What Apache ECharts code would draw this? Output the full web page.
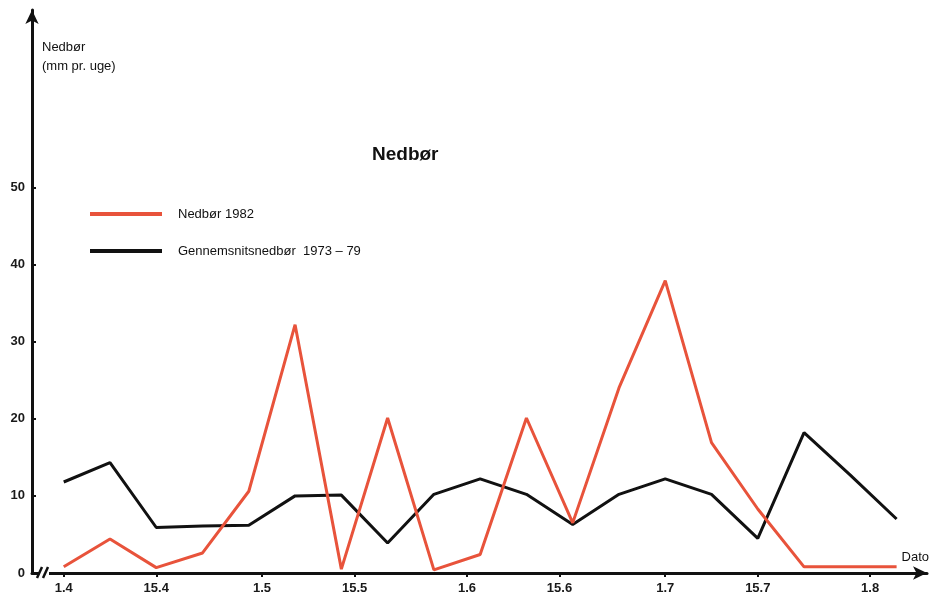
<!DOCTYPE html>
<html>
<head>
<meta charset="utf-8">
<script src="https://cdn.jsdelivr.net/npm/echarts@6/dist/echarts.min.js"></script>
<style>
  html, body { margin: 0; padding: 0; background: #fff; }
  #chart { width: 932px; height: 597px; }
</style>
</head>
<body>
<div id="chart"></div>
<script>
// Days after 1 April (weekly observations)
const days = [0, 7, 14, 21, 28, 35, 42, 49, 56, 63, 70, 77, 84, 91, 98, 105, 112, 119, 126];
const rain1982 = [0.8, 4.4, 0.7, 2.6, 10.6, 32.2, 0.5, 20.1, 0.4, 2.4, 20.1, 6.5, 24.0, 37.9, 16.9, 8.3, 0.8, 0.8, 0.8];
const rainAvg = [11.8, 14.3, 5.9, 6.1, 6.2, 10.0, 10.1, 3.9, 10.2, 12.2, 10.2, 6.3, 10.2, 12.2, 10.2, 4.5, 18.2, 12.7, 7.0];
const tickDays = [0, 14, 30, 44, 61, 75, 91, 105, 122];
const tickLabels = ['1.4', '15.4', '1.5', '15.5', '1.6', '15.6', '1.7', '15.7', '1.8'];
const yTicks = [0, 10, 20, 30, 40, 50];
const seriesNames = ['Nedbør 1982', 'Gennemsnitsnedbør  1973 – 79'];

const FONT = 'Liberation Sans, Arial, sans-serif';
const chart = echarts.init(document.getElementById('chart'));

const pair = (xs, ys) => xs.map((x, i) => [x, ys[i]]);

chart.setOption({
  animation: false,
  backgroundColor: '#ffffff',
  textStyle: { fontFamily: FONT },
  title: {
    text: 'Nedbør',
    left: 367,
    top: 140,
    textStyle: { fontFamily: FONT, fontSize: 19, fontWeight: 'bold', color: '#111' }
  },
  legend: {
    orient: 'vertical',
    left: 85,
    top: 201,
    itemWidth: 72,
    itemHeight: 4,
    itemGap: 21,
    icon: 'rect',
    data: seriesNames,
    textStyle: { fontFamily: FONT, fontSize: 13, color: '#111', padding: [0, 0, 0, 11], lineHeight: 16 }
  },
  grid: { left: 32, right: 2, top: 10, bottom: 24, containLabel: false },
  xAxis: {
    type: 'value',
    min: -4.8,
    max: 130.6,
    name: 'Dato',
    nameLocation: 'end',
    nameGap: 2,
    nameTextStyle: { fontFamily: FONT, fontSize: 13, color: '#111', align: 'right', verticalAlign: 'bottom', padding: [0, 0, 9, 0] },
    axisLine: { show: true, onZero: false, symbol: ['none', 'arrow'], symbolSize: [10, 14], lineStyle: { color: '#111', width: 3 } },
    axisTick: { show: true, customValues: tickDays, length: 4, lineStyle: { color: '#111', width: 2 } },
    axisLabel: {
      customValues: tickDays,
      formatter: v => tickLabels[tickDays.indexOf(v)] || '',
      margin: 9, fontFamily: FONT, fontSize: 13, fontWeight: 'bold', color: '#1a1a1a'
    },
    splitLine: { show: false }
  },
  yAxis: {
    type: 'value',
    min: 0,
    max: 73,
    name: 'Nedbør\n(mm pr. uge)',
    nameLocation: 'end',
    nameGap: -28,
    nameTextStyle: { fontFamily: FONT, fontSize: 13, color: '#111', align: 'left', verticalAlign: 'top', lineHeight: 19, padding: [0, 0, 0, 10] },
    axisLine: { show: true, onZero: false, symbol: ['none', 'arrow'], symbolSize: [10, 14], lineStyle: { color: '#111', width: 3 } },
    axisTick: { show: true, inside: true, customValues: yTicks, length: 4, lineStyle: { color: '#111', width: 2 } },
    axisLabel: { customValues: yTicks, margin: 7, fontFamily: FONT, fontSize: 13, fontWeight: 'bold', color: '#1a1a1a' },
    splitLine: { show: false }
  },
  series: [
    {
      name: seriesNames[0],
      type: 'line',
      data: pair(days, rain1982),
      showSymbol: false,
      symbol: 'none',
      color: '#e8533b',
      lineStyle: { color: '#e8533b', width: 3 },
      z: 3
    },
    {
      name: seriesNames[1],
      type: 'line',
      data: pair(days, rainAvg),
      showSymbol: false,
      symbol: 'none',
      color: '#111111',
      lineStyle: { color: '#111111', width: 3 },
      z: 2
    }
  ],
  graphic: [
    { type: 'rect', shape: { x: 39, y: 569, width: 10, height: 8 }, style: { fill: '#fff' }, z: 100 },
    { type: 'line', shape: { x1: 37, y1: 578, x2: 42, y2: 567 }, style: { stroke: '#111', lineWidth: 2.5 }, z: 101 },
    { type: 'line', shape: { x1: 43, y1: 578, x2: 48, y2: 567 }, style: { stroke: '#111', lineWidth: 2.5 }, z: 101 }
  ]
});
</script>
</body>
</html>
